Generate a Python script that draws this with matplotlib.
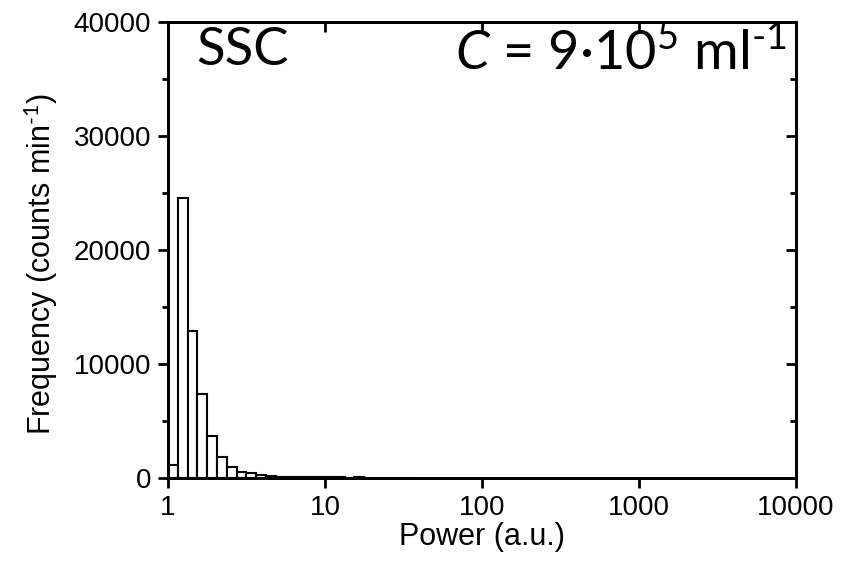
import numpy as np
import matplotlib.pyplot as plt
from matplotlib.ticker import FixedLocator, NullLocator, MultipleLocator

# histogram counts, log-spaced bins (16 per decade) starting at power = 1
counts = [1150, 24600, 12900, 7350, 3700, 1800, 1000, 560, 400, 280,
          190, 120, 80, 60, 60, 50, 50, 50, 30, 50,
          40, 20, 20, 20, 40]
bins_per_decade = 16
x_ticks = [1, 10, 100, 1000, 10000]
x_labels = ["1", "10", "100", "1000", "10000"]
y_ticks = [0, 10000, 20000, 30000, 40000]

edges = 10 ** (np.arange(len(counts) + 1) / bins_per_decade)
widths = np.diff(edges)

plt.rcParams["font.family"] = ["Liberation Sans", "DejaVu Sans"]
plt.rcParams["mathtext.fontset"] = "custom"
plt.rcParams["mathtext.rm"] = "Lato"
plt.rcParams["mathtext.it"] = "Lato:italic"

fig = plt.figure(figsize=(8.42, 5.61), dpi=100)
ax = fig.add_axes([0.1995, 0.148, 0.7459, 0.8128])

ax.bar(edges[:-1], counts, width=widths, align="edge",
       facecolor="white", edgecolor="black", linewidth=1.5, zorder=2)

ax.set_xscale("log")
ax.set_xlim(1, 10000)
ax.set_ylim(0, 40000)
ax.xaxis.set_major_locator(FixedLocator(x_ticks))
ax.set_xticklabels(x_labels)
ax.xaxis.set_minor_locator(NullLocator())
ax.yaxis.set_major_locator(FixedLocator(y_ticks))
ax.yaxis.set_minor_locator(MultipleLocator(5000))

for s in ax.spines.values():
    s.set_linewidth(2)

ax.tick_params(which="major", direction="out", length=7, width=2,
               labelsize=20, pad=5)
ax.tick_params(which="minor", direction="out", length=4, width=2)

# mirrored axes with inward ticks
axt = ax.twiny()
axt.set_xscale("log")
axt.set_xlim(ax.get_xlim())
axt.xaxis.set_major_locator(FixedLocator(x_ticks))
axt.xaxis.set_minor_locator(NullLocator())
axt.tick_params(direction="in", length=7, width=2, labeltop=False)
axr = ax.twinx()
axr.set_ylim(ax.get_ylim())
axr.yaxis.set_major_locator(FixedLocator(y_ticks))
axr.yaxis.set_minor_locator(MultipleLocator(5000))
axr.tick_params(which="major", direction="in", length=7, width=2, labelright=False)
axr.tick_params(which="minor", direction="in", length=4, width=2)
for a in (axt, axr):
    for s in a.spines.values():
        s.set_linewidth(2)

ax.set_xlabel("Power (a.u.)", fontsize=22, labelpad=1)
ax.set_ylabel("Frequency (counts min$^{\\text{-}1}$)", fontsize=22)
ax.yaxis.set_label_coords(-0.172, 0.47)

ax.text(0.045, 0.99, "SSC", transform=ax.transAxes, fontsize=38,
        family="Lato", ha="left", va="top")
ax.text(0.985, 0.99, r"$\mathit{C}$ = 9·10$^5$ ml$^{\text{-}1}$",
        transform=ax.transAxes, fontsize=39, family="Lato", ha="right", va="top")

fig.savefig("out.png", dpi=100)
